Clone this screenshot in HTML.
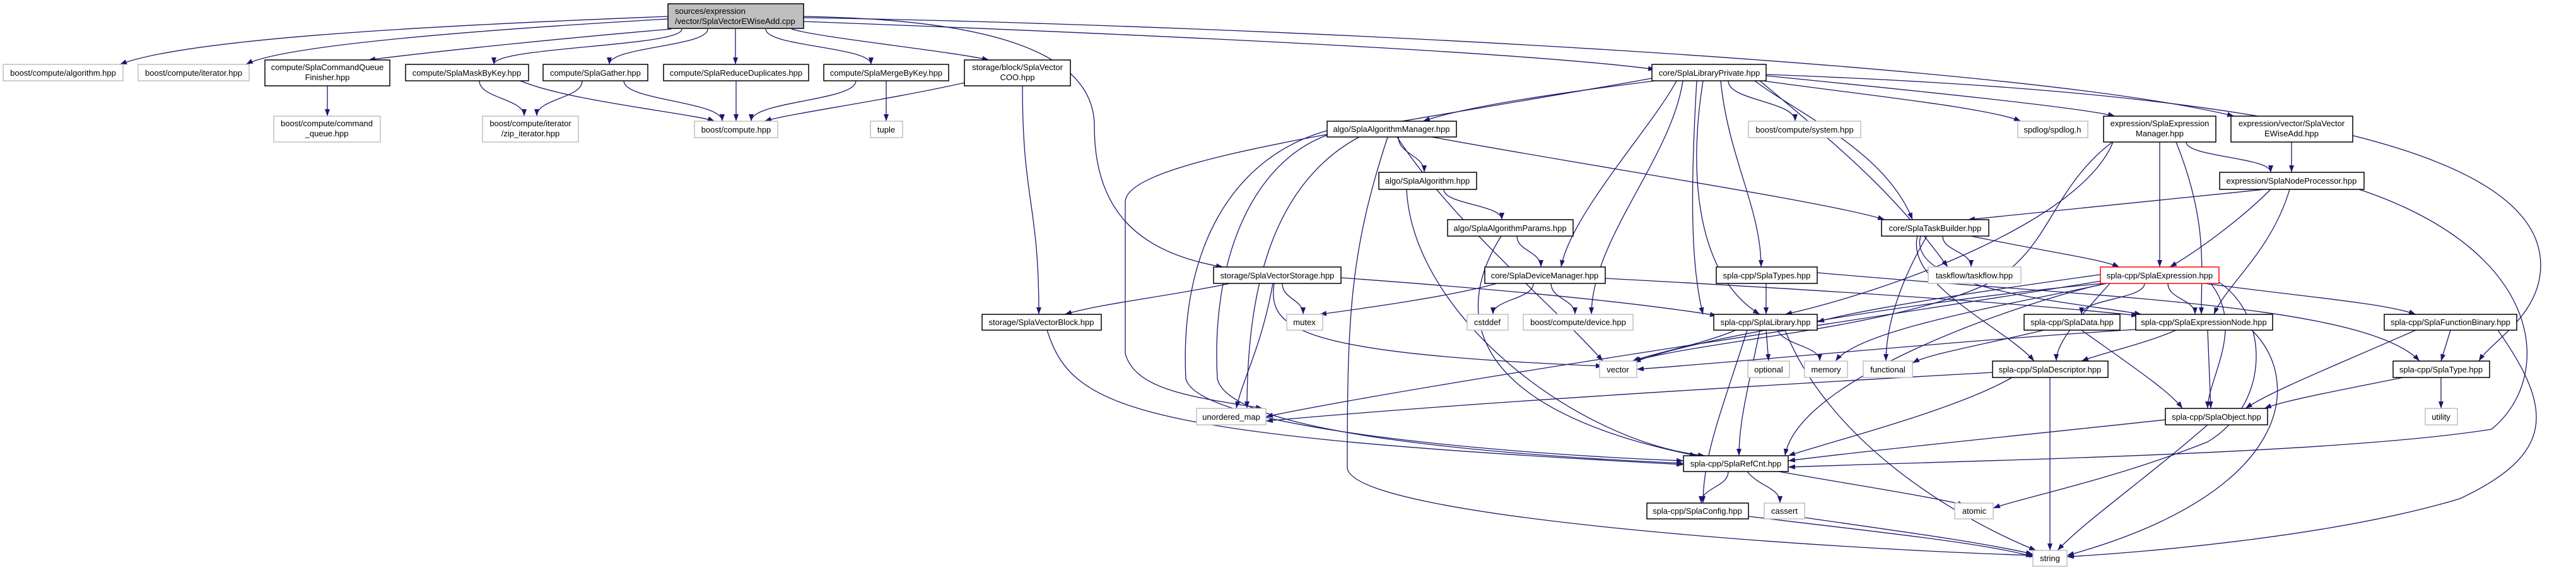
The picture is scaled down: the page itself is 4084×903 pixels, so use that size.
<!DOCTYPE html>
<html><head><meta charset="utf-8"><style>
html,body{margin:0;padding:0;background:#fff;}
svg{display:block;}
text{font-family:"Liberation Sans",Arial,sans-serif;font-size:13px;fill:#000;}
.e{fill:none;stroke:#191970;stroke-width:1.3;marker-end:url(#a);}
.n{fill:#fff;stroke:#000;stroke-width:1.5;}
.x{fill:#fff;stroke:#bfbfbf;stroke-width:1.5;}
</style></head><body>
<svg width="4084" height="903" viewBox="0 0 4084 903" xmlns="http://www.w3.org/2000/svg">
<defs><marker id="a" markerUnits="userSpaceOnUse" markerWidth="11" markerHeight="8" refX="11" refY="4" orient="auto"><path d="M0,0 L11,4 L0,8 z" fill="#191970"/></marker></defs>
<g>
<!-- root edges -->
<path class="e" d="M1059 26 C700 40, 300 60, 190 102"/>
<path class="e" d="M1059 30 C800 45, 450 70, 390 102"/>
<path class="e" d="M1064 46 C900 60, 700 80, 584 95"/>
<path class="e" d="M1081 46 C1081 74, 783 74, 783 102"/>
<path class="e" d="M1122 46 C1122 74, 966 74, 966 102"/>
<path class="e" d="M1166 46 L1166 102"/>
<path class="e" d="M1214 46 C1214 74, 1381 74, 1381 102"/>
<path class="e" d="M1255 46 C1300 60, 1500 80, 1568 95"/>
<path class="e" d="M1273 34 C1700 50, 2400 80, 2624 110"/>
<path class="e" d="M1273 28 C2000 40, 3200 100, 3542 184"/>
<path class="e" d="M1273 26 C1500 30, 1735 60, 1735 200 C1735 330, 1800 400, 1939 423"/>
<!-- row1 -->
<path class="e" d="M519 136 L519 184"/>
<path class="e" d="M760 128 C760 156, 831 156, 831 184"/>
<path class="e" d="M825 128 C900 160, 1100 180, 1133 192"/>
<path class="e" d="M923 128 C923 156, 851 156, 851 184"/>
<path class="e" d="M989 128 C989 160, 1145 160, 1145 192"/>
<path class="e" d="M1167 128 L1167 192"/>
<path class="e" d="M1357 128 C1357 160, 1191 160, 1191 192"/>
<path class="e" d="M1405 128 L1405 192"/>
<path class="e" d="M1534 130 C1400 160, 1250 180, 1212 192"/>
<path class="e" d="M1621 136 C1621 320, 1647 320, 1647 498"/>
<!-- LibraryPrivate -->
<path class="e" d="M2624 128 C2450 150, 2320 170, 2256 192"/>
<path class="e" d="M2619 124 C2200 200, 1784 250, 1784 320 L1784 560 C1800 620, 1900 630, 2002 647"/>
<path class="e" d="M2658 128 C2620 200, 2490 340, 2475 423"/>
<path class="e" d="M2668 128 C2650 250, 2523 380, 2523 498"/>
<path class="e" d="M2728 128 C2740 250, 2792 330, 2792 423"/>
<path class="e" d="M2700 128 C2680 250, 2680 430, 2790 498"/>
<path class="e" d="M2740 128 C2740 160, 2846 160, 2846 192"/>
<path class="e" d="M2795 128 C2950 150, 3150 170, 3204 192"/>
<path class="e" d="M2800 120 C3000 140, 3300 170, 3353 184"/>
<path class="e" d="M2782 128 C2850 180, 2990 240, 3032 348"/>
<path class="e" d="M2790 128 C2900 220, 3000 300, 3088 423"/>
<path class="e" d="M2800 118 C3400 140, 4028 200, 4028 420 C4028 500, 3950 540, 3930 572"/>
<path class="e" d="M2690 128 C2680 300, 2680 420, 2700 498"/>
<!-- AlgorithmManager -->
<path class="e" d="M2217 217 C2217 245, 2258 245, 2258 273"/>
<path class="e" d="M2270 217 C2500 260, 2900 320, 2988 348"/>
<path class="e" d="M2155 217 C2000 300, 1977 500, 1977 647"/>
<path class="e" d="M2104 207 C1950 250, 1870 400, 1880 600 C1900 680, 2400 720, 2669 730"/>
<path class="e" d="M2104 214 C1980 260, 1920 420, 1930 600 C1950 690, 2400 722, 2669 734"/>
<path class="e" d="M2215 217 C2300 350, 2480 500, 2541 572"/>
<path class="e" d="M2200 217 C2140 400, 2136 500, 2136 740 C2136 820, 2900 870, 3228 880"/>
<!-- Algorithm / params -->
<path class="e" d="M2289 300 C2289 324, 2381 324, 2381 348"/>
<path class="e" d="M2230 300 C2240 500, 2500 700, 2703 722"/>
<path class="e" d="M2405 374 C2405 398, 2443 398, 2443 423"/>
<path class="e" d="M2380 374 C2300 500, 2330 650, 2690 722"/>
<!-- DeviceManager -->
<path class="e" d="M2373 449 C2300 470, 2150 490, 2092 498"/>
<path class="e" d="M2431 449 C2431 474, 2367 474, 2367 498"/>
<path class="e" d="M2459 449 C2459 474, 2497 474, 2497 498"/>
<path class="e" d="M2545 441 C2900 460, 3200 480, 3390 500"/>
<!-- VectorStorage -->
<path class="e" d="M1950 449 C1850 470, 1750 480, 1688 498"/>
<path class="e" d="M2033 449 C2033 474, 2066 474, 2066 498"/>
<path class="e" d="M2020 449 C2010 520, 2050 560, 2541 580"/>
<path class="e" d="M2018 449 C2000 550, 1970 600, 1960 647"/>
<path class="e" d="M2126 440 C2400 460, 2600 480, 2722 500"/>
<path class="e" d="M1660 523 C1700 650, 1800 690, 2669 736"/>
<!-- Types / Library -->
<path class="e" d="M2800 449 L2800 498"/>
<path class="e" d="M2881 432 C3300 470, 3750 480, 3836 572"/>
<path class="e" d="M2752 523 C2700 545, 2620 560, 2588 572"/>
<path class="e" d="M2800 523 L2804 572"/>
<path class="e" d="M2818 523 C2830 548, 2885 548, 2885 572"/>
<path class="e" d="M2790 523 C2770 620, 2757 670, 2757 722"/>
<path class="e" d="M2770 523 C2730 650, 2700 720, 2700 797"/>
<path class="e" d="M2830 523 C2900 700, 3100 820, 3228 872"/>
<!-- RefCnt -->
<path class="e" d="M2740 747 C2740 772, 2697 772, 2697 797"/>
<path class="e" d="M2770 747 C2790 772, 2822 772, 2822 797"/>
<path class="e" d="M2820 747 C2950 770, 3050 785, 3115 800"/>
<path class="e" d="M2772 818 C2950 840, 3150 860, 3223 882"/>
<path class="e" d="M2861 820 C3000 840, 3150 860, 3223 878"/>
<!-- ExpressionManager -->
<path class="e" d="M3466 225 C3466 249, 3600 249, 3600 273"/>
<path class="e" d="M3424 225 L3424 423"/>
<path class="e" d="M3450 225 C3500 350, 3490 420, 3490 498"/>
<path class="e" d="M3350 225 C3300 350, 3000 460, 2830 498"/>
<path class="e" d="M3349 225 C3250 300, 3250 400, 3150 450 C3000 520, 2700 540, 2590 572"/>
<path class="e" d="M3633 225 L3633 273"/>
<!-- NodeProcessor -->
<path class="e" d="M3590 300 C3400 320, 3200 340, 3120 348"/>
<path class="e" d="M3600 300 C3550 350, 3480 400, 3440 423"/>
<path class="e" d="M3630 300 C3600 400, 3530 450, 3510 498"/>
<path class="e" d="M3740 300 C4040 400, 4049 600, 3950 680 C3700 720, 3100 730, 2835 740"/>
<!-- TaskBuilder -->
<path class="e" d="M3080 374 C3080 398, 3125 398, 3125 423"/>
<path class="e" d="M3125 374 C3250 400, 3330 410, 3360 423"/>
<path class="e" d="M3055 374 C3010 450, 2990 520, 2990 572"/>
<path class="e" d="M3040 374 C3020 450, 3180 520, 3225 572"/>
<path class="e" d="M3045 374 C3020 460, 3300 480, 3395 498"/>
<!-- Expression -->
<path class="e" d="M3330 435 C3150 460, 2950 490, 2881 510"/>
<path class="e" d="M3400 449 C3400 474, 3300 474, 3300 498"/>
<path class="e" d="M3437 449 C3437 474, 3480 474, 3480 498"/>
<path class="e" d="M3495 449 C3650 470, 3780 480, 3830 498"/>
<path class="e" d="M3345 449 C3300 500, 3260 540, 3260 572"/>
<path class="e" d="M3340 449 C3200 480, 2950 520, 2910 572"/>
<path class="e" d="M3335 449 C3100 470, 2700 530, 2590 574"/>
<path class="e" d="M3338 449 C3200 480, 2850 600, 2830 722"/>
<path class="e" d="M3505 449 C3560 520, 3500 600, 3500 647"/>
<path class="e" d="M3515 445 C3600 500, 3600 640, 3500 700 C3350 760, 3200 790, 3160 805"/>
<path class="e" d="M3332 445 C3000 500, 2300 600, 2007 660"/>
<!-- Data / Node / Binary -->
<path class="e" d="M3240 523 C3150 545, 3060 560, 3032 575"/>
<path class="e" d="M3300 523 C3380 580, 3440 620, 3460 647"/>
<path class="e" d="M3450 523 C3400 545, 3330 560, 3300 572"/>
<path class="e" d="M3500 523 L3505 647"/>
<path class="e" d="M3386 522 C3100 540, 2800 570, 2595 585"/>
<path class="e" d="M3570 523 C3650 600, 3640 780, 3277 880"/>
<path class="e" d="M3885 523 L3870 572"/>
<path class="e" d="M3830 523 C3700 580, 3600 620, 3560 647"/>
<path class="e" d="M3960 523 C4050 650, 4049 720, 3900 790 C3700 850, 3400 875, 3277 882"/>
<!-- Descriptor / Type / Object -->
<path class="e" d="M3159 590 C2800 610, 2300 640, 2007 667"/>
<path class="e" d="M3250 598 L3250 872"/>
<path class="e" d="M3190 598 C3100 650, 2900 700, 2835 722"/>
<path class="e" d="M3870 598 L3870 647"/>
<path class="e" d="M3810 598 C3700 620, 3620 635, 3590 647"/>
<path class="e" d="M3433 665 C3200 690, 2950 715, 2835 730"/>
<path class="e" d="M3500 673 C3400 760, 3300 830, 3262 872"/>
</g>
<g>
<rect x="1059" y="6" width="215" height="39" fill="#bfbfbf" stroke="#000" stroke-width="1.5"/>
<text x="1070" y="22">sources/expression</text><text x="1070" y="38">/vector/SplaVectorEWiseAdd.cpp</text>

<rect class="x" x="5" y="102" width="190" height="26"/><text x="100" y="120" text-anchor="middle">boost/compute/algorithm.hpp</text>
<rect class="x" x="219" y="102" width="176" height="26"/><text x="307" y="120" text-anchor="middle">boost/compute/iterator.hpp</text>
<rect class="n" x="420" y="95" width="198" height="41"/><text x="519" y="111" text-anchor="middle">compute/SplaCommandQueue</text><text x="519" y="127" text-anchor="middle">Finisher.hpp</text>
<rect class="n" x="643" y="102" width="195" height="26"/><text x="740" y="120" text-anchor="middle">compute/SplaMaskByKey.hpp</text>
<rect class="n" x="861" y="102" width="166" height="26"/><text x="944" y="120" text-anchor="middle">compute/SplaGather.hpp</text>
<rect class="n" x="1052" y="102" width="230" height="26"/><text x="1167" y="120" text-anchor="middle">compute/SplaReduceDuplicates.hpp</text>
<rect class="n" x="1306" y="102" width="198" height="26"/><text x="1405" y="120" text-anchor="middle">compute/SplaMergeByKey.hpp</text>
<rect class="n" x="1529" y="95" width="168" height="41"/><text x="1613" y="111" text-anchor="middle">storage/block/SplaVector</text><text x="1613" y="127" text-anchor="middle">COO.hpp</text>
<rect class="n" x="2619" y="102" width="181" height="26"/><text x="2710" y="120" text-anchor="middle">core/SplaLibraryPrivate.hpp</text>

<rect class="x" x="434" y="184" width="169" height="41"/><text x="518" y="200" text-anchor="middle">boost/compute/command</text><text x="518" y="216" text-anchor="middle">_queue.hpp</text>
<rect class="x" x="765" y="184" width="152" height="41"/><text x="841" y="200" text-anchor="middle">boost/compute/iterator</text><text x="841" y="216" text-anchor="middle">/zip_iterator.hpp</text>
<rect class="x" x="1101" y="192" width="132" height="26"/><text x="1167" y="210" text-anchor="middle">boost/compute.hpp</text>
<rect class="x" x="1380" y="192" width="51" height="26"/><text x="1405" y="210" text-anchor="middle">tuple</text>
<rect class="n" x="2104" y="192" width="205" height="25"/><text x="2206" y="209" text-anchor="middle">algo/SplaAlgorithmManager.hpp</text>
<rect class="x" x="2772" y="192" width="178" height="26"/><text x="2861" y="210" text-anchor="middle">boost/compute/system.hpp</text>
<rect class="x" x="3199" y="192" width="111" height="26"/><text x="3254" y="210" text-anchor="middle">spdlog/spdlog.h</text>
<rect class="n" x="3335" y="184" width="178" height="41"/><text x="3424" y="200" text-anchor="middle">expression/SplaExpression</text><text x="3424" y="216" text-anchor="middle">Manager.hpp</text>
<rect class="n" x="3537" y="184" width="193" height="41"/><text x="3633" y="200" text-anchor="middle">expression/vector/SplaVector</text><text x="3633" y="216" text-anchor="middle">EWiseAdd.hpp</text>

<rect class="n" x="2186" y="273" width="155" height="27"/><text x="2263" y="291" text-anchor="middle">algo/SplaAlgorithm.hpp</text>
<rect class="n" x="3519" y="273" width="229" height="27"/><text x="3633" y="291" text-anchor="middle">expression/SplaNodeProcessor.hpp</text>
<rect class="n" x="2295" y="348" width="199" height="26"/><text x="2394" y="366" text-anchor="middle">algo/SplaAlgorithmParams.hpp</text>
<rect class="n" x="2983" y="348" width="170" height="26"/><text x="3068" y="366" text-anchor="middle">core/SplaTaskBuilder.hpp</text>

<rect class="n" x="1924" y="423" width="202" height="26"/><text x="2025" y="441" text-anchor="middle">storage/SplaVectorStorage.hpp</text>
<rect class="n" x="2354" y="423" width="191" height="26"/><text x="2449" y="441" text-anchor="middle">core/SplaDeviceManager.hpp</text>
<rect class="n" x="2721" y="423" width="160" height="26"/><text x="2801" y="441" text-anchor="middle">spla-cpp/SplaTypes.hpp</text>
<rect class="x" x="3057" y="423" width="147" height="26"/><text x="3130" y="441" text-anchor="middle">taskflow/taskflow.hpp</text>
<rect x="3330" y="423" width="188" height="26" fill="#fff" stroke="#ff0000" stroke-width="1.5"/><text x="3424" y="441" text-anchor="middle">spla-cpp/SplaExpression.hpp</text>

<rect class="n" x="1557" y="498" width="189" height="25"/><text x="1651" y="515" text-anchor="middle">storage/SplaVectorBlock.hpp</text>
<rect class="x" x="2040" y="498" width="57" height="25"/><text x="2068" y="515" text-anchor="middle">mutex</text>
<rect class="x" x="2326" y="498" width="65" height="25"/><text x="2358" y="515" text-anchor="middle">cstddef</text>
<rect class="x" x="2415" y="498" width="174" height="25"/><text x="2502" y="515" text-anchor="middle">boost/compute/device.hpp</text>
<rect class="n" x="2717" y="498" width="164" height="25"/><text x="2799" y="515" text-anchor="middle">spla-cpp/SplaLibrary.hpp</text>
<rect class="n" x="3209" y="498" width="152" height="25"/><text x="3285" y="515" text-anchor="middle">spla-cpp/SplaData.hpp</text>
<rect class="n" x="3386" y="498" width="217" height="25"/><text x="3494" y="515" text-anchor="middle">spla-cpp/SplaExpressionNode.hpp</text>
<rect class="n" x="3780" y="498" width="210" height="25"/><text x="3885" y="515" text-anchor="middle">spla-cpp/SplaFunctionBinary.hpp</text>

<rect class="x" x="2536" y="572" width="59" height="26"/><text x="2565" y="590" text-anchor="middle">vector</text>
<rect class="x" x="2771" y="572" width="66" height="26"/><text x="2804" y="590" text-anchor="middle">optional</text>
<rect class="x" x="2861" y="572" width="68" height="26"/><text x="2895" y="590" text-anchor="middle">memory</text>
<rect class="x" x="2954" y="572" width="78" height="26"/><text x="2993" y="590" text-anchor="middle">functional</text>
<rect class="n" x="3159" y="572" width="183" height="26"/><text x="3250" y="590" text-anchor="middle">spla-cpp/SplaDescriptor.hpp</text>
<rect class="n" x="3794" y="572" width="153" height="26"/><text x="3870" y="590" text-anchor="middle">spla-cpp/SplaType.hpp</text>

<rect class="x" x="1897" y="647" width="110" height="26"/><text x="1952" y="665" text-anchor="middle">unordered_map</text>
<rect class="n" x="3433" y="647" width="162" height="26"/><text x="3514" y="665" text-anchor="middle">spla-cpp/SplaObject.hpp</text>
<rect class="x" x="3845" y="647" width="51" height="26"/><text x="3870" y="665" text-anchor="middle">utility</text>

<rect class="n" x="2669" y="722" width="166" height="25"/><text x="2752" y="739" text-anchor="middle">spla-cpp/SplaRefCnt.hpp</text>
<rect class="n" x="2611" y="797" width="161" height="25"/><text x="2691" y="814" text-anchor="middle">spla-cpp/SplaConfig.hpp</text>
<rect class="x" x="2797" y="797" width="64" height="25"/><text x="2829" y="814" text-anchor="middle">cassert</text>
<rect class="x" x="3099" y="797" width="61" height="25"/><text x="3130" y="814" text-anchor="middle">atomic</text>
<rect class="x" x="3223" y="872" width="54" height="25"/><text x="3250" y="889" text-anchor="middle">string</text>
</g>
</svg>
</body></html>
